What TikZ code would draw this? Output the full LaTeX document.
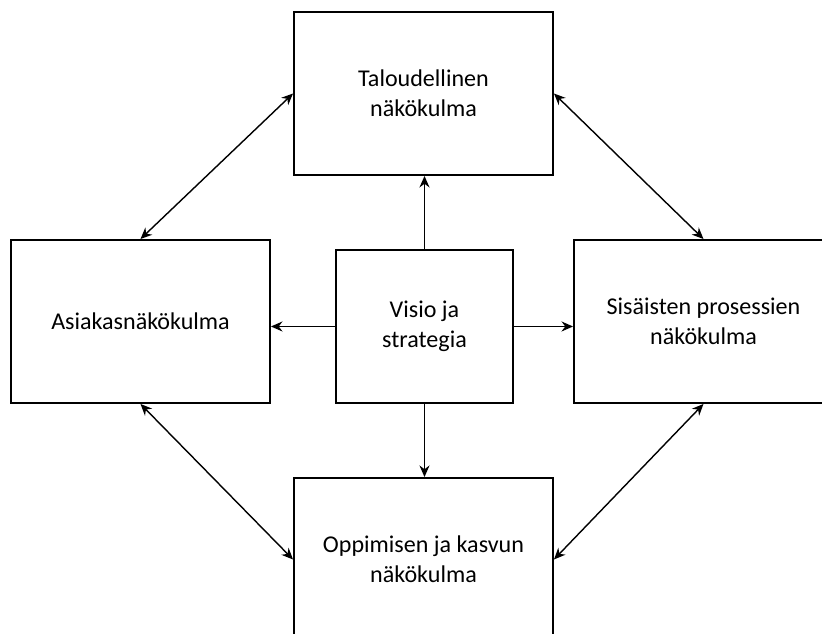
\documentclass[tikz,border=0pt]{standalone}
\usepackage{fontspec}
\setmainfont{Carlito}
\usetikzlibrary{arrows.meta}
\begin{document}
\begin{tikzpicture}[arrow/.style = {thick,-{Stealth[length=2.3mm,width=2mm]}},
                    twoway/.style = {thick,{Stealth[length=2.3mm,width=2mm]}-{Stealth[length=2.3mm,width=2mm]}},
                    box/.style = {draw, line width=1.1pt, minimum width=5.18cm, minimum height=3.26cm,
                                  align=center, font=\fontsize{13.7}{17}\selectfont}]
                    \useasboundingbox (0,0) rectangle (16.44,12.68);
                    \clip (0,0) rectangle (16.44,12.68);

                    \node [box] (tal) at (8.47,10.81) {Taloudellinen\\näkökulma};
                    \node [box] (asi) at (2.81,6.25) {Asiakasnäkökulma};
                    \node [box] (sis) at (14.07,6.25) {Sisäisten prosessien\\näkökulma};
                    \node [box] (opp) at (8.47,1.49) {Oppimisen ja kasvun\\näkökulma};
                    \node [box, minimum width=3.54cm, minimum height=3.06cm] (vis) at (8.49,6.15) {Visio ja\\strategia};

                    \draw[arrow] (vis.north) -- (vis.north |- tal.south);
                    \draw[arrow] (vis.south) -- (vis.south |- opp.north);
                    \draw[arrow] (vis.west) -- (vis.west -| asi.east);
                    \draw[arrow] (vis.east) -- (vis.east -| sis.west);

                    \draw[twoway] (tal.west) -- (asi.north);
                    \draw[twoway] (tal.east) -- (sis.north);
                    \draw[twoway] (asi.south) -- (opp.west);
                    \draw[twoway] (sis.south) -- (opp.east);
                \end{tikzpicture}
\end{document}
